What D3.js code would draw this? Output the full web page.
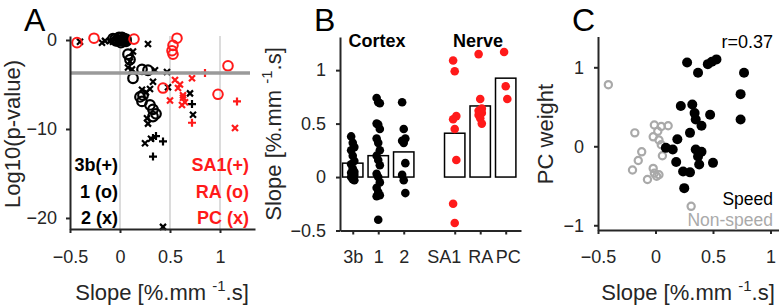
<!DOCTYPE html>
<html><head><meta charset="utf-8">
<script src="https://cdn.jsdelivr.net/npm/d3@7"></script>
<style>
body{margin:0;background:#fff;}
svg{display:block;font-family:"Liberation Sans",Arial,sans-serif;}
.axis path,.axis line{stroke:#262626;stroke-width:2;}
.axis text{fill:#262626;font-size:18px;font-family:"Liberation Sans",Arial,sans-serif;}
</style></head><body>
<svg id="chart" width="779" height="308"></svg>
<script>
// ---------- Panel A data: [slope, log10(p)] ----------
const area3bPlus = [[0.0,-0.2],[0.03,0.05],[0.72,-7.2],[0.33,-11.0],[0.36,-10.8],[0.43,-11.4],[0.33,-13.1]];
const area1Circ = [[-0.07,0.15],[-0.05,0.1],[-0.04,-0.1],[-0.02,-0.1],[-0.01,0.3],[0.0,0.25],[0.0,-0.05],[0.02,0.0],[0.02,0.3],[0.04,-0.15],[0.04,0.15],[0.06,0.1],[0.06,-0.15],[0.01,-0.3],[0.08,-1.6],[0.1,-2.2],[0.22,-3.3],[0.28,-3.4],[0.13,-4.3],[0.2,-6.4],[0.23,-6.2],[0.22,-6.9],[0.3,-7.3],[0.33,-7.8],[0.36,-8.3],[0.33,-8.6]];
const area2Cross = [[-0.4,-0.2],[-0.18,-0.3],[-0.15,-0.1],[-0.1,-0.1],[-0.07,-0.2],[0.28,-0.45],[0.13,-1.3],[0.1,-2.4],[0.08,-3.1],[0.12,-3.3],[0.35,-3.4],[0.47,-3.6],[0.33,-4.7],[0.48,-5.3],[0.22,-5.6],[0.3,-5.5],[0.26,-5.9],[0.7,-6.0],[0.73,-8.4],[0.27,-8.8],[0.28,-9.4],[0.25,-11.6],[0.31,-11.1],[0.43,-21.0]];
const sa1Plus = [[1.17,-6.9],[0.72,-9.3],[0.85,-3.7]];
const raCirc = [[-0.43,-0.3],[-0.26,0.2],[0.14,0.1],[0.57,0.2],[0.53,-0.6],[0.52,-1.2],[0.53,-1.6],[1.08,-2.9],[0.43,-5.4],[0.98,-6.1]];
const pcCross = [[0.72,-4.3],[0.55,-4.5],[0.6,-5.0],[0.58,-5.4],[0.5,-6.8],[0.63,-6.2],[0.63,-6.5],[0.65,-7.0],[0.62,-7.3],[1.15,-9.9]];
const thresholdA = -3.7;
const aXTicks = [-0.5,0,0.5,1];
const aYTicks = [-20,-10,0];
const cortexLegend = ["3b(+)","1 (o)","2 (x)"];
const nerveLegend = ["SA1(+)","RA (o)","PC (x)"];

// ---------- Panel B data ----------
const bCategories = ["3b","1","2","SA1","RA","PC"];
const bPositions = [1,2,3,5,6,7];
const bMeans = [0.13,0.2,0.235,0.41,0.665,0.925];
const b3b = [0.38,0.32,0.28,0.25,0.2,0.15,0.12,0.08,0.05,0.04,0.03,0.02,0.0,-0.02,-0.03];
const b1 = [0.74,0.70,0.69,0.5,0.49,0.45,0.36,0.32,0.25,0.2,0.16,0.11,0.03,0.0,-0.05,-0.1,-0.14,-0.17,-0.18,-0.4];
const b2 = [0.7,0.45,0.36,0.34,0.32,0.13,0.02,-0.03,-0.15];
const bSA1 = [1.09,0.99,0.57,0.54,0.45,0.16,-0.25,-0.43];
const bRA = [1.15,0.73,0.64,0.62,0.6,0.6,0.58,0.55,0.5];
const bPC = [1.17,0.85,0.73];
const bYTicks = [-0.5,0,0.5,1];

// ---------- Panel C data: [slope, PC weight] ----------
const speed = [[0.275,1.06],[0.37,0.93],[0.455,1.04],[0.49,1.07],[0.53,1.10],[0.77,0.93],[0.74,0.66],[0.74,0.34],[0.22,0.51],[0.32,0.53],[0.34,0.42],[0.475,0.40],[0.35,0.34],[0.40,0.26],[0.30,0.17],[0.19,0.09],[0.09,-0.02],[0.15,-0.04],[0.35,-0.04],[0.40,-0.07],[0.37,-0.13],[0.18,-0.2],[0.38,-0.23],[0.50,-0.21],[0.24,-0.32],[0.30,-0.33],[0.25,-0.53]];
const nonSpeed = [[-0.41,0.78],[-0.01,0.27],[0.05,0.25],[0.11,0.26],[-0.18,0.17],[-0.02,0.12],[0.02,0.19],[0.03,0.08],[0.05,0.02],[-0.12,-0.07],[0.06,-0.12],[-0.15,-0.18],[-0.2,-0.30],[-0.02,-0.28],[-0.01,-0.34],[0.03,-0.36],[-0.07,-0.42],[0.01,-0.38],[0.31,-0.76]];
const cXTicks = [-0.5,0,0.5,1];
const cYTicks = [-1,0,1];
const rLabel = "r=0.37";

const RED = "#ff1a1a";
const svg = d3.select("#chart");
const fmt = d => d3.format("")(d);

function xTitle(g, x, y){
  const t = g.append("text").attr("x",x).attr("y",y).attr("text-anchor","middle")
    .attr("font-size",22).attr("fill","#262626");
  t.append("tspan").text("Slope [%.mm ");
  t.append("tspan").attr("dy",-9).attr("font-size",15).text("-1");
  t.append("tspan").attr("dy",9).text(".s]");
  return t;
}
function plusPath(s){return `M${-s},0H${s}M0,${-s}V${s}`;}
function crossPath(s){return `M${-s},${-s}L${s},${s}M${-s},${s}L${s},${-s}`;}
function trimDomain(g){
  g.selectAll(".axis .domain").each(function(){
    const el=d3.select(this);
    el.attr("d", el.attr("d").replace(/^M([\d.-]+),([\d.-]+)V([\d.-]+)H([\d.-]+)V([\d.-]+)$/,"M$1,$3H$4")
                             .replace(/^M([\d.-]+),([\d.-]+)H([\d.-]+)V([\d.-]+)H([\d.-]+)$/,"M$3,$2V$4"));
  });
}

// ================= Panel A =================
{
  const x = d3.scaleLinear().domain([-0.5,1.35]).range([70,255]);
  const y = d3.scaleLinear().domain([-21.24,0.45]).range([229,36]);
  const g = svg.append("g");
  g.selectAll(".grid").data([0,0.5,1]).join("line")
    .attr("x1",d=>x(d)).attr("x2",d=>x(d)).attr("y1",y.range()[1]).attr("y2",y.range()[0])
    .attr("stroke","#dcdcdc").attr("stroke-width",2);
  const mk = g.append("g");
  mk.selectAll(".c1").data(area1Circ).join("circle")
    .attr("cx",d=>x(d[0])).attr("cy",d=>y(d[1])).attr("r",4.8)
    .attr("fill","none").attr("stroke","#000").attr("stroke-width",2.2);
  mk.selectAll(".x2").data(area2Cross).join("path")
    .attr("transform",d=>`translate(${x(d[0])},${y(d[1])})`).attr("d",crossPath(3))
    .attr("stroke","#000").attr("stroke-width",2.2).attr("fill","none");
  mk.selectAll(".p3").data(area3bPlus).join("path")
    .attr("transform",d=>`translate(${x(d[0])},${y(d[1])})`).attr("d",plusPath(4))
    .attr("stroke","#000").attr("stroke-width",2.2).attr("fill","none");
  mk.selectAll(".ra").data(raCirc).join("circle")
    .attr("cx",d=>x(d[0])).attr("cy",d=>y(d[1])).attr("r",4.8)
    .attr("fill","none").attr("stroke",RED).attr("stroke-width",2);
  mk.selectAll(".pc").data(pcCross).join("path")
    .attr("transform",d=>`translate(${x(d[0])},${y(d[1])})`).attr("d",crossPath(3))
    .attr("stroke",RED).attr("stroke-width",2.2).attr("fill","none");
  mk.selectAll(".sa").data(sa1Plus).join("path")
    .attr("transform",d=>`translate(${x(d[0])},${y(d[1])})`).attr("d",plusPath(4))
    .attr("stroke",RED).attr("stroke-width",2.2).attr("fill","none");
  g.append("line").attr("x1",x(-0.5)).attr("x2",x(1.3)).attr("y1",y(thresholdA)).attr("y2",y(thresholdA))
    .attr("stroke","#9a9a9a").attr("stroke-width",3.5);
  g.append("g").attr("class","axis").attr("transform","translate(70,0)")
    .call(d3.axisLeft(y).tickValues(aYTicks).tickSize(4).tickPadding(9).tickFormat(fmt));
  g.append("g").attr("class","axis").attr("transform","translate(0,229)")
    .call(d3.axisBottom(x).tickValues(aXTicks).tickSize(4).tickPadding(17).tickFormat(fmt));
  trimDomain(g);
  g.append("text").attr("x",24).attr("y",31).attr("font-size",32).attr("fill","#000").text("A");
  g.append("text").attr("transform","translate(20,134) rotate(-90)").attr("text-anchor","middle")
    .attr("font-size",22).attr("fill","#262626").text("Log10(p-value)");
  xTitle(g,162,300);
  g.selectAll(".lc").data(cortexLegend).join("text")
    .attr("x",118).attr("y",(d,i)=>171+i*26.5).attr("text-anchor","end").attr("font-size",18).attr("font-weight","bold")
    .attr("fill","#000").text(d=>d);
  g.selectAll(".ln").data(nerveLegend).join("text")
    .attr("x",249).attr("y",(d,i)=>171+i*26.5).attr("text-anchor","end").attr("font-size",18).attr("font-weight","bold")
    .attr("fill",RED).text(d=>d);
}

// ================= Panel B =================
{
  const x = d3.scaleLinear().domain([0.5,7.6]).range([340,521]);
  const y = d3.scaleLinear().domain([-0.5,1.31]).range([230.5,37]);
  const g = svg.append("g");
  const groups = [b3b,b1,b2,bSA1,bRA,bPC];
  g.selectAll(".bar").data(bMeans).join("rect")
    .attr("x",(d,i)=>x(bPositions[i]-0.4)).attr("width",x(0.8)-x(0))
    .attr("y",d=>y(d)).attr("height",d=>y(0)-y(d))
    .attr("fill","#fff").attr("stroke","#000").attr("stroke-width",1.5);
  groups.forEach((vals,i)=>{
    g.selectAll(".dot"+i).data(vals).join("circle")
      .attr("cx",(d,j)=>x(bPositions[i]) + ((j%3)-1)*1.6)
      .attr("cy",d=>y(d)).attr("r",4.3)
      .attr("fill", i<3 ? "#000" : RED);
  });
  g.append("g").attr("class","axis").attr("transform","translate(340,0)")
    .call(d3.axisLeft(y).tickValues(bYTicks).tickSize(4).tickPadding(10).tickFormat(fmt));
  const xa = g.append("g").attr("class","axis").attr("transform","translate(0,230.5)")
    .call(d3.axisBottom(x).tickValues(bPositions).tickSize(4).tickPadding(16).tickFormat((d,i)=>bCategories[i]));
  xa.selectAll(".tick text").attr("dx",(d,i)=> i===3 ? -11 : (i===5 ? 2 : 0)).attr("font-size",17);
  trimDomain(g);
  g.append("text").attr("x",314).attr("y",31).attr("font-size",32).attr("fill","#000").text("B");
  g.append("text").attr("x",377).attr("y",47).attr("text-anchor","middle").attr("font-size",18).attr("font-weight","bold").text("Cortex");
  g.append("text").attr("x",478).attr("y",47).attr("text-anchor","middle").attr("font-size",18).attr("font-weight","bold").text("Nerve");
  const t = g.append("text").attr("transform","translate(281,134) rotate(-90)").attr("text-anchor","middle")
    .attr("font-size",22).attr("fill","#262626");
  t.append("tspan").text("Slope [%.mm ");
  t.append("tspan").attr("dy",-9).attr("font-size",15).text("-1");
  t.append("tspan").attr("dy",9).text(".s]");
}

// ================= Panel C =================
{
  const x = d3.scaleLinear().domain([-0.5,1.074]).range([598,779]);
  const y = d3.scaleLinear().domain([-1.06,1.39]).range([230,36.5]);
  const g = svg.append("g");
  g.selectAll(".ns").data(nonSpeed).join("circle")
    .attr("cx",d=>x(d[0])).attr("cy",d=>y(d[1])).attr("r",3.6)
    .attr("fill","none").attr("stroke","#a9a9a9").attr("stroke-width",2.2);
  g.selectAll(".sp").data(speed).join("circle")
    .attr("cx",d=>x(d[0])).attr("cy",d=>y(d[1])).attr("r",5)
    .attr("fill","#000");
  g.append("g").attr("class","axis").attr("transform","translate(598,0)")
    .call(d3.axisLeft(y).tickValues(cYTicks).tickSize(4).tickPadding(10).tickFormat(fmt));
  g.append("g").attr("class","axis").attr("transform","translate(0,230)")
    .call(d3.axisBottom(x).tickValues(cXTicks).tickSize(4).tickPadding(16).tickFormat(fmt));
  trimDomain(g);
  g.append("text").attr("x",572).attr("y",31).attr("font-size",32).attr("fill","#000").text("C");
  g.append("text").attr("x",773).attr("y",48).attr("text-anchor","end").attr("font-size",18).attr("fill","#000").text(rLabel);
  g.append("text").attr("x",773).attr("y",205).attr("text-anchor","end").attr("font-size",17.5).attr("fill","#000").text("Speed");
  g.append("text").attr("x",773).attr("y",226).attr("text-anchor","end").attr("font-size",17.5).attr("fill","#aaaaaa").text("Non-speed");
  g.append("text").attr("transform","translate(553,134) rotate(-90)").attr("text-anchor","middle")
    .attr("font-size",22).attr("fill","#262626").text("PC weight");
  xTitle(g,688,300);
}
</script>
</body></html>
